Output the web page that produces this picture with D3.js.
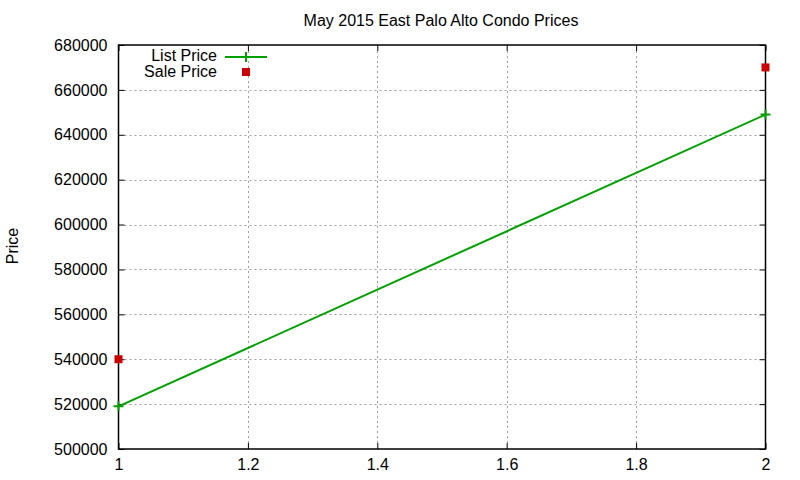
<!DOCTYPE html>
<html>
<head>
<meta charset="utf-8">
<script src="https://cdn.jsdelivr.net/npm/d3@7"></script>
<style>
  body { margin: 0; background: #fff; }
  text { font-family: "Liberation Sans", Arial, sans-serif; fill: #000; }
</style>
</head>
<body>
<div id="chart"></div>
<script>
// the data
const xValues = [1, 2];
const listPrice = [519000, 649000];
const salePrice = [540000, 670000];
const xTicks = [1, 1.2, 1.4, 1.6, 1.8, 2];
const yTicks = [500000, 520000, 540000, 560000, 580000, 600000, 620000, 640000, 660000, 680000];
const seriesNames = ["List Price", "Sale Price"];

const width = 800, height = 480;
const plot = { left: 118.5, right: 765.5, top: 45, bottom: 449 };
const green = "#00a000", red = "#cc0000";

const svg = d3.select("#chart").append("svg")
    .attr("width", width).attr("height", height);

// scales
const xScale = d3.scaleLinear().domain([1, 2]).range([plot.left, plot.right]);
const yScale = d3.scaleLinear().domain([500000, 680000]).range([plot.bottom, plot.top]);

// gridlines (dashed, start after the inward ticks)
const grid = svg.append("g").attr("stroke", "#a0a0a0").attr("stroke-width", 1)
    .attr("stroke-dasharray", "2,3");
grid.selectAll("line.gy").data(yTicks.slice(1, -1)).join("line").attr("class", "gy")
    .attr("x1", plot.left + 6).attr("x2", plot.right - 6)
    .attr("y1", d => Math.round(yScale(d)) + 0.5).attr("y2", d => Math.round(yScale(d)) + 0.5);
grid.selectAll("line.gx").data(xTicks.slice(1, -1)).join("line").attr("class", "gx")
    .attr("y1", plot.top + 6).attr("y2", plot.bottom - 6)
    .attr("x1", d => Math.round(xScale(d)) + 0.5).attr("x2", d => Math.round(xScale(d)) + 0.5);

// axes with inward ticks, mirrored on the opposite side
svg.append("g").attr("transform", "translate(0," + plot.bottom + ")")
    .call(d3.axisBottom(xScale).tickValues(xTicks).tickSize(-6).tickPadding(10)
        .tickFormat(d3.format("~g")));
svg.append("g").attr("transform", "translate(0," + plot.top + ")")
    .call(d3.axisTop(xScale).tickValues(xTicks).tickSize(-6).tickFormat(() => ""));
svg.append("g").attr("transform", "translate(" + plot.left + ",0)")
    .call(d3.axisLeft(yScale).tickValues(yTicks).tickSize(-6).tickPadding(11)
        .tickFormat(d3.format("d")));
svg.append("g").attr("transform", "translate(" + plot.right + ",0)")
    .call(d3.axisRight(yScale).tickValues(yTicks).tickSize(-6).tickFormat(() => ""));
svg.selectAll(".domain").remove();
svg.selectAll(".tick line").attr("stroke", "#000");
svg.selectAll(".tick text").style("font-size", "16px").attr("fill", "#000")
    .style("font-family", "'Liberation Sans', Arial, sans-serif");

// border
svg.append("rect").attr("x", plot.left).attr("y", plot.top)
    .attr("width", plot.right - plot.left).attr("height", plot.bottom - plot.top)
    .attr("fill", "none").attr("stroke", "#000").attr("stroke-width", 1.5);

// title and axis label
svg.append("text").attr("x", 441).attr("y", 26).attr("text-anchor", "middle")
    .style("font-size", "16px").text("May 2015 East Palo Alto Condo Prices");
svg.append("text").attr("transform", "translate(18,246) rotate(-90)")
    .attr("text-anchor", "middle").style("font-size", "16px").text("Price");

// list price line with + points
const listData = xValues.map((x, i) => ({ x: x, y: listPrice[i] }));
const line = d3.line().x(d => xScale(d.x)).y(d => yScale(d.y));
svg.append("path").datum(listData).attr("fill", "none")
    .attr("stroke", green).attr("stroke-width", 2).attr("d", line);
function drawPlus(g, cx, cy) {
    g.append("path").attr("d", "M" + (cx - 5) + "," + cy + "H" + (cx + 5) +
        "M" + cx + "," + (cy - 5) + "V" + (cy + 5))
        .attr("stroke", green).attr("stroke-width", 2).attr("fill", "none");
}
listData.forEach(d => drawPlus(svg, xScale(d.x), yScale(d.y)));

// sale price squares
const saleData = xValues.map((x, i) => ({ x: x, y: salePrice[i] }));
svg.selectAll("rect.sale").data(saleData).join("rect").attr("class", "sale")
    .attr("x", d => xScale(d.x) - 4).attr("y", d => yScale(d.y) - 4)
    .attr("width", 8).attr("height", 8).attr("fill", red);

// legend
const legend = svg.append("g");
legend.selectAll("text").data(seriesNames).join("text")
    .attr("x", 217).attr("y", (d, i) => 61 + i * 16).attr("text-anchor", "end")
    .style("font-size", "16px").text(d => d);
legend.append("line").attr("x1", 225).attr("x2", 267).attr("y1", 57).attr("y2", 57)
    .attr("stroke", green).attr("stroke-width", 2);
drawPlus(legend, 246, 57);
legend.append("rect").attr("x", 242).attr("y", 68).attr("width", 8).attr("height", 8)
    .attr("fill", red);
</script>
</body>
</html>
